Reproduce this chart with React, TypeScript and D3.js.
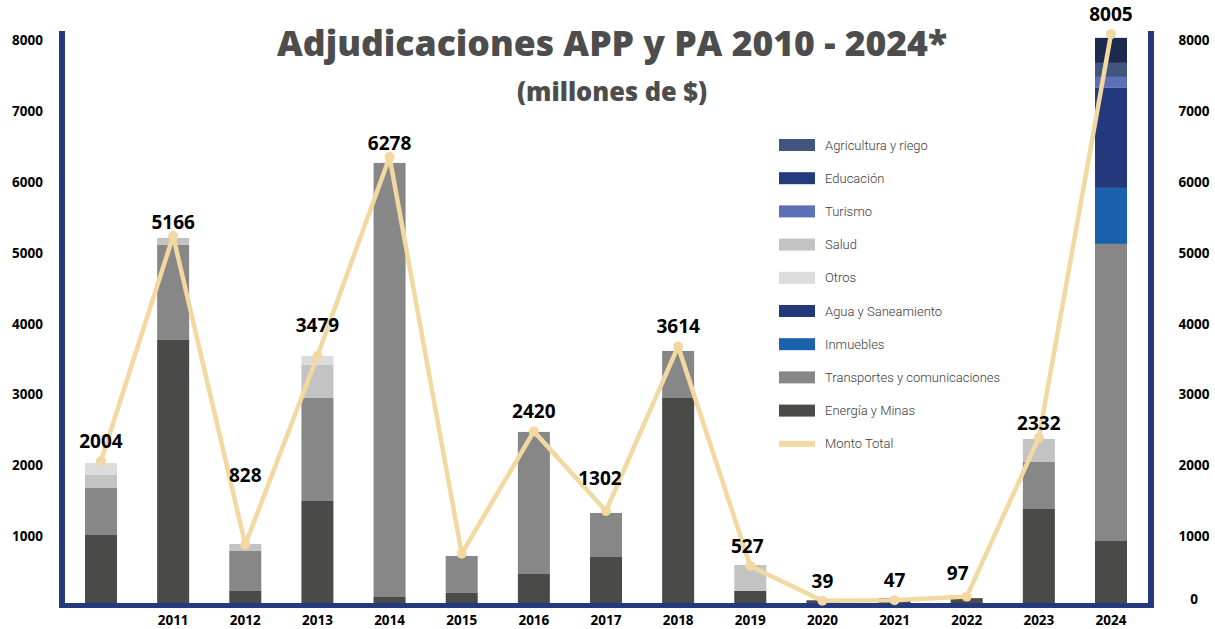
import React from "react";
import * as d3 from "d3";

const years = ["2010","2011","2012","2013","2014","2015","2016","2017","2018","2019","2020","2021","2022","2023","2024"];
const xLabels = ["","2011","2012","2013","2014","2015","2016","2017","2018","2019","2020","2021","2022","2023","2024"];

// stacked series, bottom to top
const energia       = [1016, 3768, 226, 1496, 141, 198, 466, 706, 2949, 226, 95, 125, 125, 1383, 931];
const transportes   = [663, 1341, 564, 1453, 6125, 522, 2004, 621, 664, 0, 0, 0, 0, 663, 4192];
const inmuebles     = [0, 0, 0, 0, 0, 0, 0, 0, 0, 0, 0, 0, 0, 0, 790];
const agua          = [0, 0, 0, 0, 0, 0, 0, 0, 0, 0, 0, 0, 0, 0, 1411];
const salud         = [184, 98, 99, 466, 0, 0, 0, 0, 0, 367, 0, 0, 0, 325, 0];
const otros         = [169, 0, 0, 127, 0, 0, 0, 0, 0, 0, 0, 0, 0, 0, 0];
const turismo       = [0, 0, 0, 0, 0, 0, 0, 0, 0, 0, 0, 0, 0, 0, 155];
const agricultura   = [0, 0, 0, 0, 0, 0, 0, 0, 0, 0, 0, 0, 0, 0, 198];
const educacion     = [0, 0, 0, 0, 0, 0, 0, 0, 0, 0, 0, 0, 0, 0, 353];

const montoTotal = [2004, 5166, 828, 3479, 6278, 700, 2420, 1302, 3614, 527, 39, 47, 97, 2332, 8005];
const montoLabels = ["2004","5166","828","3479","6278","","2420","1302","3614","527","39","47","97","2332","8005"];

const leftTicks = [1000, 2000, 3000, 4000, 5000, 6000, 7000, 8000];
const rightTicks = [0, 1000, 2000, 3000, 4000, 5000, 6000, 7000, 8000];

const stackSeries = [
  { key: "Energía y Minas", values: energia, color: "#4a4a48" },
  { key: "Transportes y comunicaciones", values: transportes, color: "#878787" },
  { key: "Inmuebles", values: inmuebles, color: "#1a62ab" },
  { key: "Agua y Saneamiento", values: agua, color: "#24397c" },
  { key: "Salud", values: salud, color: "#c3c3c3" },
  { key: "Otros", values: otros, color: "#dcdcdc" },
  { key: "Turismo", values: turismo, color: "#5b70b6" },
  { key: "Agricultura y riego", values: agricultura, color: "#41557e" },
  { key: "Educación", values: educacion, color: "#1c2a4d" },
];

const legendOrder = ["Agricultura y riego","Educación","Turismo","Salud","Otros","Agua y Saneamiento","Inmuebles","Transportes y comunicaciones","Energía y Minas","Monto Total"];
const legendSwatch: Record<string, string> = { "Educación": "#233a7c" };

// label nudges (dx, dy from default position above point)
const labelNudge: Record<string, [number, number]> = {
  "2012": [0, -50], "2013": [0, -11], "2017": [-6, -13], "2011": [0, 6], "2014": [0, 6], "2023": [0, 5], "2022": [-9, -4], "2019": [-3, 0],
};

const NAVY = "#253a7e";
const LINE = "#f2d8a1";

export default function App() {
  const x = d3.scalePoint<string>().domain(years).range([101, 1111]);
  const yBar = d3.scaleLinear().domain([0, 8000]).range([607, 40]);
  const yLine = d3.scaleLinear().domain([0, 8000]).range([603.5, 34.5]);
  const barW = 32;

  const table = years.map((yr, i) => {
    const row: Record<string, any> = { year: yr };
    stackSeries.forEach((s) => (row[s.key] = s.values[i]));
    return row;
  });
  const stacked = d3.stack<any>().keys(stackSeries.map((s) => s.key))(table);

  const lineGen = d3.line<number>().x((_, i) => x(years[i])!).y((d) => yLine(d));

  const fontBold = "'Noto Sans', 'Open Sans', sans-serif";

  return (
    <svg width={1215} height={629} style={{ position: "absolute", left: 0, top: 0, background: "#fff" }}>
      {/* title */}
      <text x={612} y={56} textAnchor="middle" fontFamily="'Open Sans', sans-serif" fontWeight={800} fontSize={36} fill="#4d4d4d" textLength={670} lengthAdjust="spacingAndGlyphs">
        Adjudicaciones APP y PA 2010 - 2024*
      </text>
      <text x={612} y={101} textAnchor="middle" fontFamily="'Open Sans', sans-serif" fontWeight={800} fontSize={26} fill="#4d4d4d" textLength={190} lengthAdjust="spacingAndGlyphs">
        (millones de $)
      </text>

      {/* bars */}
      {stacked.map((layer, li) => (
        <g key={layer.key} fill={stackSeries[li].color}>
          {layer.map((d, i) =>
            d[1] - d[0] > 0 ? (
              <rect key={i} x={x(years[i])! - barW / 2} y={yBar(d[1])} width={barW} height={yBar(d[0]) - yBar(d[1])} />
            ) : null
          )}
        </g>
      ))}

      {/* frame */}
      <rect x={59} y={31} width={6} height={577} fill={NAVY} />
      <rect x={1148} y={31} width={6} height={577} fill={NAVY} />
      <rect x={59} y={603} width={1095} height={5} fill={NAVY} />

      {/* axis labels */}
      {leftTicks.map((t) => (
        <text key={"l" + t} x={43} y={yBar(t)} textAnchor="end" dominantBaseline="central" fontFamily={fontBold} fontWeight={700} fontSize={13.5} fill="#000">
          {t}
        </text>
      ))}
      {rightTicks.map((t) => (
        <text key={"r" + t} x={1194} y={Math.min(yBar(t), 599)} textAnchor="middle" dominantBaseline="central" fontFamily={fontBold} fontWeight={700} fontSize={13.5} fill="#000">
          {t}
        </text>
      ))}
      {years.map((yr, i) => (
        <text key={"x" + yr} x={x(yr)!} y={625} textAnchor="middle" fontFamily={fontBold} fontWeight={700} fontSize={13.5} fill="#000">
          {xLabels[i]}
        </text>
      ))}

      {/* line */}
      <path d={lineGen(montoTotal) || ""} fill="none" stroke={LINE} strokeWidth={4.5} strokeLinejoin="round" />
      {montoTotal.map((v, i) => (
        <circle key={"c" + i} cx={x(years[i])!} cy={yLine(v)} r={5} fill={LINE} />
      ))}
      {montoTotal.map((v, i) => {
        const nudge = labelNudge[years[i]] || [0, 0];
        return (
          <text key={"t" + i} x={x(years[i])! + nudge[0]} y={yLine(v) - 20 + nudge[1]} textAnchor="middle" dominantBaseline="central" fontFamily={fontBold} fontWeight={700} fontSize={19} fill="#000">
            {montoLabels[i]}
          </text>
        );
      })}

      {/* legend */}
      {legendOrder.map((name, i) => {
        const cy = 145 + i * 33.2;
        const s = stackSeries.find((q) => q.key === name);
        return (
          <g key={name}>
            {s ? (
              <rect x={779} y={cy - 6} width={36} height={12} fill={legendSwatch[name] || s.color} />
            ) : (
              <rect x={779} y={cy - 3} width={36} height={6} fill={LINE} />
            )}
            <text x={825} y={cy} dominantBaseline="central" fontFamily="Roboto, sans-serif" fontWeight={300} fontSize={13} fill="#3a3a3a">
              {name}
            </text>
          </g>
        );
      })}
    </svg>
  );
}
